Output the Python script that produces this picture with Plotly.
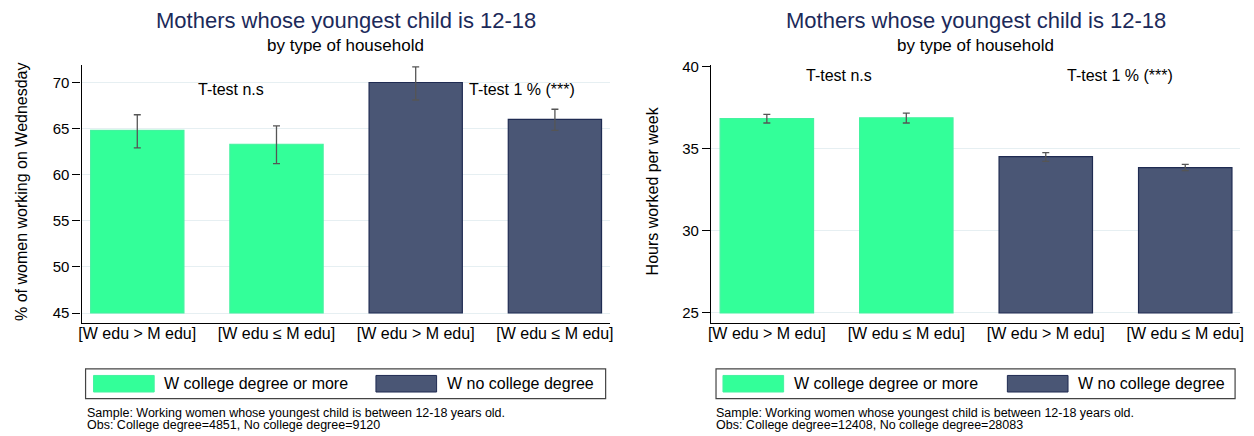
import plotly.graph_objects as go
from plotly.subplots import make_subplots

# page body has an 8px margin, so the figure is drawn 8px smaller and
# all pixel positions below are given in window coordinates
OFF = 8
W, H = 1254 - OFF, 436 - OFF

# data
pos_college = [1, 2]
pos_nocollege = [3, 4]
tick_labels = ["[W edu > M edu]", "[W edu \u2264 M edu]", "[W edu > M edu]", "[W edu \u2264 M edu]"]

# left panel: % working on Wednesday
wed_college = [64.8, 63.3]
wed_college_lo = [62.9, 61.2]
wed_college_hi = [66.5, 65.3]
wed_nocollege = [70.0, 66.0]
wed_nocollege_lo = [68.1, 64.8]
wed_nocollege_hi = [71.7, 67.1]

# right panel: hours worked per week
hrs_college = [36.82, 36.87]
hrs_college_lo = [36.55, 36.55]
hrs_college_hi = [37.07, 37.15]
hrs_nocollege = [34.50, 33.84]
hrs_nocollege_lo = [34.22, 33.65]
hrs_nocollege_hi = [34.75, 34.04]

GREEN = "#33ff99"
NAVY = "#4a5675"
FONT = "Liberation Sans, Arial, sans-serif"


def px_x(p):
    return (p - OFF) / W


def px_y(p):
    # small vertical correction measured from the previous renders
    p = (p - 9) / 0.9765
    return 1 - (p - OFF) / H


fig = make_subplots(rows=1, cols=2)


def add_bars(col, x, vals, lo, hi, base, color, edge):
    fig.add_trace(go.Bar(
        x=x,
        y=[v - base for v in vals],
        base=base,
        width=0.67,
        marker=dict(color=color, line=dict(color=edge, width=1.2)),
        error_y=dict(
            type="data", symmetric=False,
            array=[h - v for h, v in zip(hi, vals)],
            arrayminus=[v - l for v, l in zip(vals, lo)],
            color="#555555", thickness=1.3, width=3.5,
        ),
        showlegend=False,
    ), row=1, col=col)


add_bars(1, pos_college, wed_college, wed_college_lo, wed_college_hi, 45, GREEN, "#45f2a0")
add_bars(1, pos_nocollege, wed_nocollege, wed_nocollege_lo, wed_nocollege_hi, 45, NAVY, "#1f2b52")
add_bars(2, pos_college, hrs_college, hrs_college_lo, hrs_college_hi, 25, GREEN, "#45f2a0")
add_bars(2, pos_nocollege, hrs_nocollege, hrs_nocollege_lo, hrs_nocollege_hi, 25, NAVY, "#1f2b52")

xcommon = dict(
    range=[0.6, 4.393], tickvals=[1, 2, 3, 4], ticktext=tick_labels,
    showline=True, linecolor="black", linewidth=1.3, ticks="",
    ticklabelstandoff=-4,
    showgrid=False, zeroline=False, tickfont=dict(size=16, color="black"),
)
ycommon = dict(
    showline=True, linecolor="black", linewidth=1.3, ticks="outside",
    ticklen=8, tickcolor="black", tickwidth=1.2,
    gridcolor="#e6eff2", gridwidth=1.3, zeroline=False,
    tickfont=dict(size=15, color="black"),
)
ydom = [px_y(322), px_y(66)]

fig.update_layout(
    xaxis=dict(domain=[px_x(79), px_x(610)], **xcommon),
    xaxis2=dict(domain=[px_x(712), px_x(1244)], **xcommon),
    yaxis=dict(domain=ydom, range=[43.95, 71.85], tickvals=[45, 50, 55, 60, 65, 70], **ycommon),
    yaxis2=dict(domain=ydom, range=[24.41, 40.05], tickvals=[25, 30, 35, 40], **ycommon),
)

ann = []
shapes = []

panels = [
    dict(x0=79, x1=610, ytitle="% of women working on Wednesday", ytitle_x=18,
         xref="x", yref="y", ttest=[(1.675, 69.2), (3.76, 69.2)],
         box=(83, 606), sw1=(91, 152), tx1=160, sw2=(375, 436), tx2=444,
         note_x=82, obs="Obs: College degree=4851, No college degree=9120"),
    dict(x0=712, x1=1244, ytitle="Hours worked per week", ytitle_x=653,
         xref="x2", yref="y2", ttest=[(1.52, 39.43), (3.53, 39.43)],
         box=(717, 1239), sw1=(724, 785), tx1=793, sw2=(1010, 1071), tx2=1079,
         note_x=715, obs="Obs: College degree=12408, No college degree=28083"),
]

for p in panels:
    cx = (p["x0"] + p["x1"]) / 2
    ann.append(dict(text="Mothers whose youngest child is 12-18", x=px_x(cx), y=px_y(21),
                    xref="paper", yref="paper", showarrow=False, xanchor="center", yanchor="middle",
                    font=dict(size=22, color="#1c2a5a")))
    ann.append(dict(text="by type of household", x=px_x(cx), y=px_y(46),
                    xref="paper", yref="paper", showarrow=False, xanchor="center", yanchor="middle",
                    font=dict(size=17, color="black")))
    ann.append(dict(text=p["ytitle"], x=px_x(p["ytitle_x"]), y=px_y(191), textangle=-90,
                    xref="paper", yref="paper", showarrow=False, xanchor="center", yanchor="middle",
                    font=dict(size=16, color="black")))
    ann.append(dict(text="T-test n.s", x=p["ttest"][0][0], y=p["ttest"][0][1],
                    xref=p["xref"], yref=p["yref"], showarrow=False,
                    font=dict(size=16, color="black")))
    ann.append(dict(text="T-test 1 % (***)", x=p["ttest"][1][0], y=p["ttest"][1][1],
                    xref=p["xref"], yref=p["yref"], showarrow=False,
                    font=dict(size=16, color="black")))
    # legend box drawn by hand so the swatches can be large, as in the original
    shapes.append(dict(type="rect", xref="paper", yref="paper",
                       x0=px_x(p["box"][0]), x1=px_x(p["box"][1]), y0=px_y(397.5), y1=px_y(368),
                       line=dict(color="#444444", width=1.2), fillcolor="white"))
    shapes.append(dict(type="rect", xref="paper", yref="paper",
                       x0=px_x(p["sw1"][0]), x1=px_x(p["sw1"][1]), y0=px_y(391), y1=px_y(374.5),
                       line=dict(color="#45f2a0", width=1), fillcolor=GREEN))
    shapes.append(dict(type="rect", xref="paper", yref="paper",
                       x0=px_x(p["sw2"][0]), x1=px_x(p["sw2"][1]), y0=px_y(391), y1=px_y(374.5),
                       line=dict(color="#1f2b52", width=1), fillcolor=NAVY))
    ann.append(dict(text="W college degree or more", x=px_x(p["tx1"]), y=px_y(383),
                    xref="paper", yref="paper", showarrow=False, xanchor="left", yanchor="middle",
                    font=dict(size=16, color="black")))
    ann.append(dict(text="W no college degree", x=px_x(p["tx2"]), y=px_y(383),
                    xref="paper", yref="paper", showarrow=False, xanchor="left", yanchor="middle",
                    font=dict(size=16, color="black")))
    ann.append(dict(text="Sample: Working women whose youngest child is between 12-18 years old.",
                    x=px_x(p["note_x"]), y=px_y(412), xref="paper", yref="paper", showarrow=False,
                    xanchor="left", yanchor="middle", font=dict(size=12.5, color="black")))
    ann.append(dict(text=p["obs"], x=px_x(p["note_x"]), y=px_y(424), xref="paper", yref="paper",
                    showarrow=False, xanchor="left", yanchor="middle",
                    font=dict(size=12.5, color="black")))

fig.update_layout(
    width=W, height=H,
    margin=dict(l=0, r=0, t=0, b=0),
    paper_bgcolor="white", plot_bgcolor="white",
    font=dict(family=FONT, color="black"),
    annotations=ann, shapes=shapes,
    barmode="overlay",
)

fig.write_html("out.html")
